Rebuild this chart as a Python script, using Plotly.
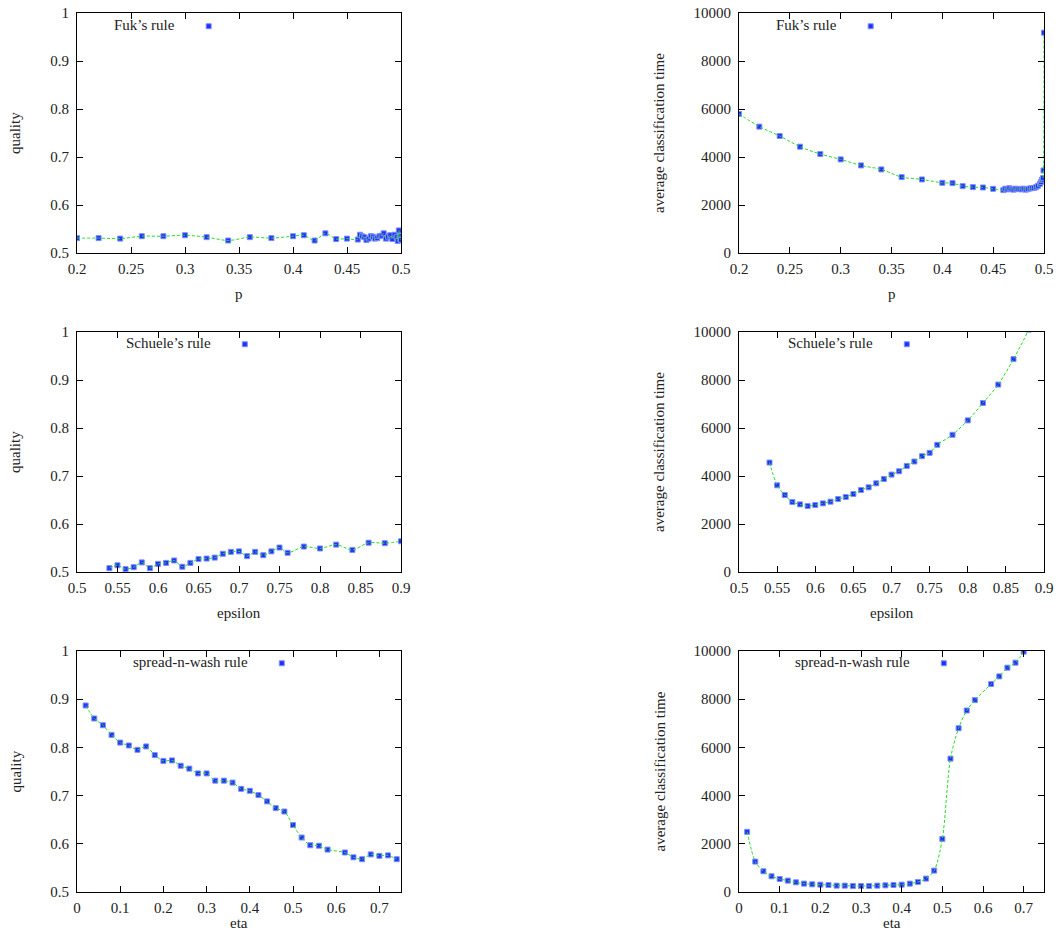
import plotly.graph_objects as go

# ---------------- data ----------------
fuk_p = [0.20, 0.22, 0.24, 0.26, 0.28, 0.30, 0.32, 0.34, 0.36, 0.38, 0.40, 0.41, 0.42, 0.43, 0.44, 0.45,
         0.46, 0.462, 0.464, 0.466, 0.468, 0.47, 0.472, 0.474, 0.476, 0.478, 0.48, 0.482, 0.484, 0.486,
         0.488, 0.49, 0.492, 0.494, 0.496, 0.497, 0.498, 0.499, 0.4995, 0.5]
fuk_quality = [0.531, 0.531, 0.530, 0.535, 0.535, 0.537, 0.533, 0.526, 0.533, 0.531, 0.535, 0.537, 0.526,
               0.541, 0.529, 0.530,
               0.528, 0.538, 0.535, 0.533, 0.527, 0.530, 0.535, 0.534, 0.530, 0.531, 0.535, 0.536, 0.541,
               0.530, 0.534, 0.537, 0.529, 0.538, 0.533, 0.525, 0.547, 0.535, 0.528, 0.527]
fuk_time = [5794, 5265, 4875, 4429, 4123, 3900, 3649, 3482, 3162, 3064, 2925, 2911, 2786, 2744, 2730, 2674,
            2620, 2680, 2650, 2700, 2660, 2640, 2680, 2660, 2670, 2650, 2680, 2640, 2660, 2690,
            2700, 2710, 2740, 2800, 2880, 2960, 3050, 3120, 3440, 9180]

schuele_eps = [0.54, 0.55, 0.56, 0.57, 0.58, 0.59, 0.60, 0.61, 0.62, 0.63, 0.64, 0.65, 0.66, 0.67, 0.68,
               0.69, 0.70, 0.71, 0.72, 0.73, 0.74, 0.75, 0.76, 0.78, 0.80, 0.82, 0.84, 0.86, 0.88, 0.90]
schuele_quality = [0.508, 0.514, 0.506, 0.510, 0.520, 0.508, 0.517, 0.519, 0.524, 0.511, 0.519, 0.527,
                   0.528, 0.530, 0.538, 0.542, 0.543, 0.533, 0.542, 0.535, 0.543, 0.551, 0.540, 0.553,
                   0.549, 0.557, 0.546, 0.561, 0.560, 0.564]
schuele_time = [4561, 3612, 3208, 2915, 2817, 2748, 2789, 2859, 2929, 3040, 3124, 3250, 3417, 3529, 3696,
                3877, 4059, 4198, 4421, 4603, 4826, 4965, 5300, 5718, 6318, 7043, 7810, 8870, 10100, 11500]

snw_eta_q = [0.02, 0.04, 0.06, 0.08, 0.10, 0.12, 0.14, 0.16, 0.18, 0.20, 0.22, 0.24, 0.26, 0.28, 0.30,
             0.32, 0.34, 0.36, 0.38, 0.40, 0.42, 0.44, 0.46, 0.48, 0.50, 0.52, 0.54, 0.56, 0.58, 0.62,
             0.64, 0.66, 0.68, 0.70, 0.72, 0.74]
snw_quality = [0.887, 0.860, 0.846, 0.826, 0.810, 0.804, 0.795, 0.802, 0.784, 0.772, 0.773, 0.762, 0.756,
               0.746, 0.746, 0.731, 0.731, 0.727, 0.714, 0.710, 0.701, 0.688, 0.674, 0.667, 0.639, 0.613,
               0.597, 0.596, 0.588, 0.582, 0.572, 0.568, 0.578, 0.575, 0.576, 0.568]
snw_eta_t = [0.02, 0.04, 0.06, 0.08, 0.10, 0.12, 0.14, 0.16, 0.18, 0.20, 0.22, 0.24, 0.26, 0.28, 0.30,
             0.32, 0.34, 0.36, 0.38, 0.40, 0.42, 0.44, 0.46, 0.48, 0.50, 0.52, 0.54, 0.56, 0.58, 0.62,
             0.64, 0.66, 0.68, 0.70]
snw_time = [2497, 1262, 860, 652, 541, 472, 402, 347, 319, 305, 291, 264, 264, 250, 250, 250, 264, 277,
            291, 305, 347, 416, 555, 888, 2205, 5534, 6796, 7531, 7961, 8627, 8946, 9307, 9515, 9972]

names = ["Fuk\u2019s rule", "Fuk\u2019s rule", "Schuele\u2019s rule", "Schuele\u2019s rule",
         "spread-n-wash rule", "spread-n-wash rule"]
x_titles = ["p", "p", "epsilon", "epsilon", "eta", "eta"]
y_titles = ["quality", "average classification time"] * 3

panels = [
    (fuk_p, fuk_quality), (fuk_p, fuk_time),
    (schuele_eps, schuele_quality), (schuele_eps, schuele_time),
    (snw_eta_q, snw_quality), (snw_eta_t, snw_time),
]

# ---------------- layout geometry ----------------
# the page body margin is removed (post_script), so the figure fills the window
OFF = 0
W, H = 1061, 941


def fx(px):
    return (px - OFF) / W


def fy(py):
    return 1 - (py - OFF) / H


col_px = [(77, 401), (739, 1044)]
row_px = [(13, 253), (332, 572), (651, 892)]
xdom = [(fx(a), fx(b)) for a, b in col_px]
ydom = [(fy(b), fy(a)) for a, b in row_px]
xtitle_y = [294, 613, 923]
ytitle_x = [15, 659]
xranges = [[0.2, 0.5], [0.2, 0.5], [0.5, 0.9], [0.5, 0.9], [0, 0.75], [0, 0.75]]
xdticks = [0.05, 0.05, 0.05, 0.05, 0.1, 0.1]
yranges = [[0.5, 1], [0, 10000]] * 3
ydticks = [0.1, 2000] * 3
legend_text_start = [(116, 25), (778, 25), (128, 343), (790, 343), (135, 662), (797, 662)]

FONT = "Liberation Serif"
TXT = "#222222"
BLUE = "#1f2fff"
GREEN = "#22dd22"
FS = 15

fig = go.Figure()
layout = dict(
    width=W, height=H, margin=dict(l=0, r=0, t=0, b=0, autoexpand=False),
    paper_bgcolor="white", plot_bgcolor="white",
    font=dict(family=FONT, size=FS, color=TXT),
)
annotations = []

for i, (xs, ys) in enumerate(panels):
    n = i + 1
    xa = "x" if n == 1 else f"x{n}"
    ya = "y" if n == 1 else f"y{n}"
    lg = "legend" if n == 1 else f"legend{n}"
    fig.add_trace(go.Scatter(
        x=xs, y=ys, xaxis=xa, yaxis=ya, mode="markers", name=" ",
        marker=dict(symbol="square", size=5, color=BLUE, line=dict(color="#7f8fff", width=1)),
        legend=lg, showlegend=True,
    ))
    fig.add_trace(go.Scatter(
        x=xs, y=ys, xaxis=xa, yaxis=ya, mode="lines",
        line=dict(color=GREEN, width=1, dash="3px,2px", shape="spline", smoothing=0.8),
        showlegend=False, hoverinfo="skip",
    ))
    col = i % 2
    row = i // 2
    axcommon = dict(showline=True, linecolor="black", linewidth=1, mirror="ticks",
                    ticks="inside", ticklen=6, tickcolor="black", showgrid=False, zeroline=False,
                    automargin=False, ticklabeloverflow="allow",
                    tickfont=dict(family=FONT, size=FS, color=TXT))
    layout["xaxis" if n == 1 else f"xaxis{n}"] = dict(
        domain=list(xdom[col]), anchor=ya, range=xranges[i], dtick=xdticks[i], tick0=0,
        ticklabelstandoff=2, **axcommon)
    layout["yaxis" if n == 1 else f"yaxis{n}"] = dict(
        domain=list(ydom[row]), anchor=xa, range=yranges[i], dtick=ydticks[i], tick0=0,
        tickformat="d" if col == 1 else None, ticklabelstandoff=4,
        **axcommon)
    # axis titles
    cx = (col_px[col][0] + col_px[col][1]) / 2
    cy = (row_px[row][0] + row_px[row][1]) / 2
    annotations.append(dict(text=x_titles[i], x=fx(cx), y=fy(xtitle_y[row]), xref="paper", yref="paper",
                            xanchor="center", yanchor="middle", showarrow=False,
                            font=dict(family=FONT, size=FS, color=TXT)))
    annotations.append(dict(text=y_titles[i], x=fx(ytitle_x[col]), y=fy(cy), xref="paper", yref="paper",
                            xanchor="center", yanchor="middle", showarrow=False, textangle=-90,
                            font=dict(family=FONT, size=FS, color=TXT)))
    sx, sy = legend_text_start[i]
    layout[lg] = dict(
        x=(sx - 4 - OFF) / W, y=1 - (sy - 15 - OFF) / H, xanchor="left", yanchor="top",
        xref="container", yref="container",
        bgcolor="rgba(0,0,0,0)", borderwidth=0,
        title=dict(text=names[i] + "\u2006\u00a0", side="left", font=dict(family=FONT, size=FS, color=TXT)),
        font=dict(family=FONT, size=FS, color=TXT), itemwidth=30, tracegroupgap=0,
    )

layout["annotations"] = annotations
fig.update_layout(**layout)
fig.write_html("out.html", config={"displayModeBar": False},
               post_script="document.body.style.margin='0px';document.body.style.overflow='hidden';")
